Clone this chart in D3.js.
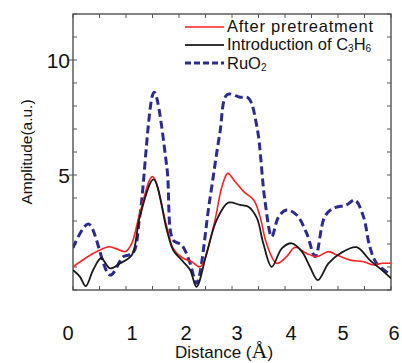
<!DOCTYPE html>
<html><head><meta charset="utf-8">
<script src="https://cdn.jsdelivr.net/npm/d3@7"></script>
<style>
html,body{margin:0;padding:0;background:#fff;}
svg text{font-family:"Liberation Sans",Arial,sans-serif;}
</style>
</head><body>
<svg id="c" width="402" height="363"></svg>
<script>
// Data (x in Å, amplitude in a.u.)
const seriesNames = ["After pretreatment", "Introduction of C3H6", "RuO2"];
const afterX = [0,0.38,0.68,0.8,0.99,1.11,1.26,1.5,1.77,1.89,2.08,2.24,2.4,2.65,2.81,2.92,3.06,3.22,3.41,3.53,3.65,3.84,4.03,4.19,4.41,4.6,4.82,4.98,5.23,5.48,5.67,5.83,6.0];
const afterY = [1.01,1.59,1.88,1.81,1.67,2.03,3.33,4.93,2.75,1.81,1.38,1.23,1.01,2.75,4.49,5.07,4.71,4.28,3.91,3.19,2.03,1.16,1.45,1.86,1.59,1.45,1.67,1.52,1.30,1.23,1.09,1.16,1.16];
const introX = [0,0.13,0.24,0.38,0.53,0.70,0.89,1.11,1.26,1.52,1.77,1.89,2.08,2.21,2.33,2.52,2.71,2.93,3.15,3.31,3.47,3.59,3.75,3.94,4.13,4.32,4.47,4.62,4.82,5.04,5.35,5.6,5.79,6.0];
const introY = [0.87,0.58,0.17,0.87,1.38,0.94,1.16,1.52,3.19,4.81,2.61,1.74,1.23,0.87,0.14,1.59,3.04,3.80,3.70,3.62,3.12,2.03,1.01,1.81,2.03,1.67,1.01,0.43,1.16,1.59,1.86,1.30,0.94,0.51];
const ruoX = [0,0.29,0.70,0.95,1.13,1.26,1.53,1.77,1.89,2.05,2.21,2.33,2.58,2.77,2.91,3.15,3.31,3.47,3.62,3.75,3.88,4.03,4.22,4.41,4.57,4.75,4.91,5.16,5.32,5.48,5.6,5.73,6.0];
const ruoY = [1.83,2.87,0.65,1.45,1.6,3.19,8.6,5.36,2.17,1.96,1.16,0.29,3.91,6.81,8.5,8.38,8.34,7.1,3.91,2.32,3.19,3.48,3.26,2.46,1.45,3.19,3.55,3.7,3.91,3.19,1.88,1.16,0.65];
const xTickLabels = [0,1,2,3,4,5,6];
const yTickLabels = [5,10];

const svg = d3.select("#c");
const L=73, R=391, T=14, B=290;
const x = d3.scaleLinear().domain([0,6]).range([L,R]);
const y = d3.scaleLinear().domain([0,12]).range([B,T]);

// frame
svg.append("rect").attr("x",L).attr("y",T).attr("width",R-L).attr("height",B-T)
  .attr("fill","none").attr("stroke","#333").attr("stroke-width",1.2);

// inward ticks on all sides
const xt = d3.range(0,6.01,0.5), yt = d3.range(0,12.01,1);
const g = svg.append("g").attr("stroke","#555").attr("stroke-width",1);
xt.forEach(v=>{
  g.append("line").attr("x1",x(v)).attr("x2",x(v)).attr("y1",B).attr("y2",B-4);
  g.append("line").attr("x1",x(v)).attr("x2",x(v)).attr("y1",T).attr("y2",T+4);
});
yt.forEach(v=>{
  g.append("line").attr("x1",L).attr("x2",L+4).attr("y1",y(v)).attr("y2",y(v));
  g.append("line").attr("x1",R).attr("x2",R-4).attr("y1",y(v)).attr("y2",y(v));
});
yTickLabels.forEach(v=>{
  g.append("line").attr("x1",L-4).attr("x2",L).attr("y1",y(v)).attr("y2",y(v));
});

// tick labels (slight per-label offsets as in the reference)
const xLabelShift = [-5,6,7,5,6,5,3];
svg.append("g").selectAll("text").data(xTickLabels).join("text")
  .attr("x",(d,i)=>x(d)+xLabelShift[i])
  .attr("y",340).attr("text-anchor","middle").attr("font-size",20).attr("fill","#111").text(d=>d);
svg.append("g").selectAll("text").data(yTickLabels).join("text")
  .attr("x",70).attr("y",d=>y(d)+7.5).attr("text-anchor","end").attr("font-size",21).attr("fill","#111").text(d=>d);

// axis titles
const xt2 = svg.append("text").attr("x",175).attr("y",358).attr("font-size",17).attr("fill","#111");
xt2.append("tspan").text("Distance (");
xt2.append("tspan").attr("font-family","'Liberation Serif',serif").attr("font-size",22).text("Å");
xt2.append("tspan").text(")");
svg.append("text").attr("transform","translate(32,152) rotate(-90)").attr("text-anchor","middle")
  .attr("font-size",15.5).attr("fill","#111").text("Amplitude(a.u.)");

// lines
const line = d3.line().x(d=>x(d[0])).y(d=>y(d[1])).curve(d3.curveCatmullRom.alpha(0.5));
svg.append("clipPath").attr("id","cp").append("rect").attr("x",L).attr("y",T).attr("width",R-L).attr("height",B-T);
const pz = (xs,ys)=>xs.map((v,i)=>[v,ys[i]]);
const plot = svg.append("g").attr("clip-path","url(#cp)");
plot.append("path").attr("d",line(pz(ruoX,ruoY))).attr("fill","none").attr("stroke","#2b2b90").attr("stroke-width",3).attr("stroke-dasharray","8,4");
plot.append("path").attr("d",line(pz(afterX,afterY))).attr("fill","none").attr("stroke","#ff2020").attr("stroke-width",1.6);
plot.append("path").attr("d",line(pz(introX,introY))).attr("fill","none").attr("stroke","#1a1a1a").attr("stroke-width",1.8);

// legend
const lg = svg.append("g");
const rows = [
  {y:27, stroke:"#ff2020", w:1.6, dash:null},
  {y:45, stroke:"#333", w:2, dash:null},
  {y:63, stroke:"#2b2b90", w:3, dash:"6,3"}
];
rows.forEach(r=>{
  lg.append("line").attr("x1",185).attr("x2",224).attr("y1",r.y).attr("y2",r.y)
    .attr("stroke",r.stroke).attr("stroke-width",r.w).attr("stroke-dasharray",r.dash);
});
lg.append("text").attr("x",227).attr("y",32).attr("font-size",16.5).attr("fill","#111").attr("textLength",146).text(seriesNames[0]);
const t2 = lg.append("text").attr("x",227).attr("y",50).attr("font-size",16.5).attr("fill","#111");
t2.append("tspan").text("Introduction of C");
t2.append("tspan").attr("font-size",10).attr("dy",2).text("3");
t2.append("tspan").attr("dy",-2).text("H");
t2.append("tspan").attr("font-size",10).attr("dy",2).text("6");
const t3 = lg.append("text").attr("x",227).attr("y",69).attr("font-size",16.5).attr("fill","#111");
t3.append("tspan").text("RuO");
t3.append("tspan").attr("font-size",10).attr("dy",2).text("2");
</script>
</body></html>
